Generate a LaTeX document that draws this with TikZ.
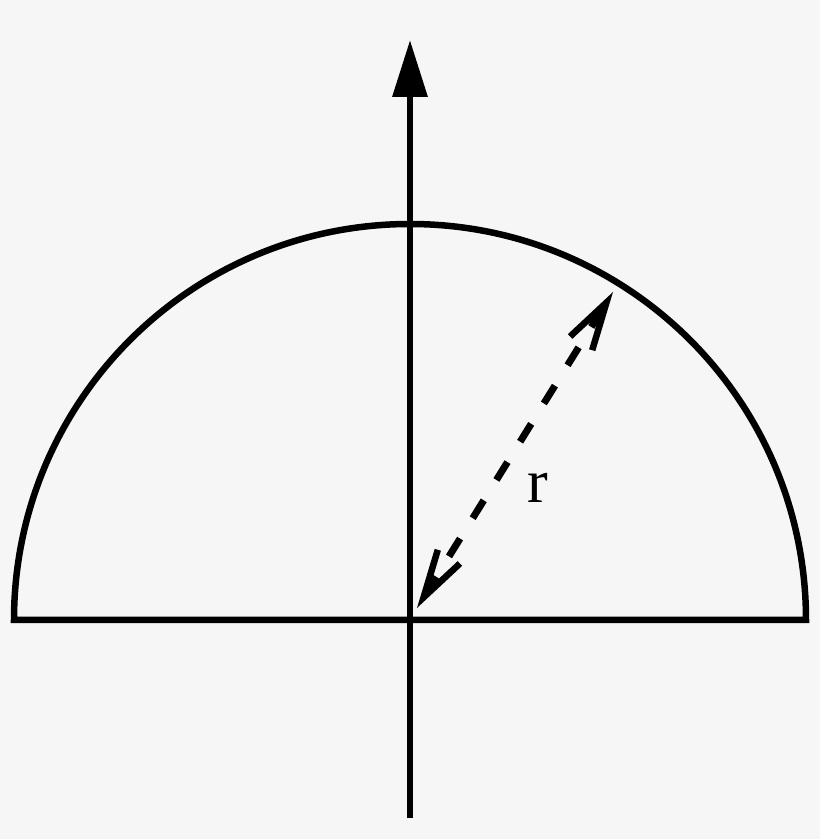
\documentclass[tikz,border=0pt]{standalone}
\usepackage{fontspec}
\setmainfont{Liberation Serif}
\usetikzlibrary{arrows.meta}
\definecolor{bg}{RGB}{246,246,246}
\begin{document}
\begin{tikzpicture}[x=1pt,y=1pt,
  stroke/.style={line width=6.5pt, black},
  radiusline/.style={line width=7pt, black, dash pattern=on 21pt off 24pt,
     {Straight Barb[length=48pt,width=26pt,line width=6.5pt]}-{Straight Barb[length=48pt,width=26pt,line width=6.5pt]}},
  axisline/.style={stroke, -{Triangle[length=57pt,width=34pt]}},
  lbl/.style={font=\fontsize{62}{62}\selectfont, inner sep=0pt}]
\fill[bg] (0,0) rectangle (820,839);
\useasboundingbox (0,0) rectangle (820,839);
\coordinate (C) at (410,219);
\coordinate (E) at (806,219);
\coordinate (axB) at (410,21);
\coordinate (axT) at (410,799);
\coordinate (rB) at (417,231);
\coordinate (rT) at (613,547);
\draw[stroke, line join=miter] (E) arc[start angle=0,end angle=180,radius=396pt] -- cycle;
\draw[axisline] (axB) -- (axT);
\draw[radiusline] (rB) -- (rT);
\node[lbl] (r) at (538,351) {r};
\end{tikzpicture}
\end{document}
